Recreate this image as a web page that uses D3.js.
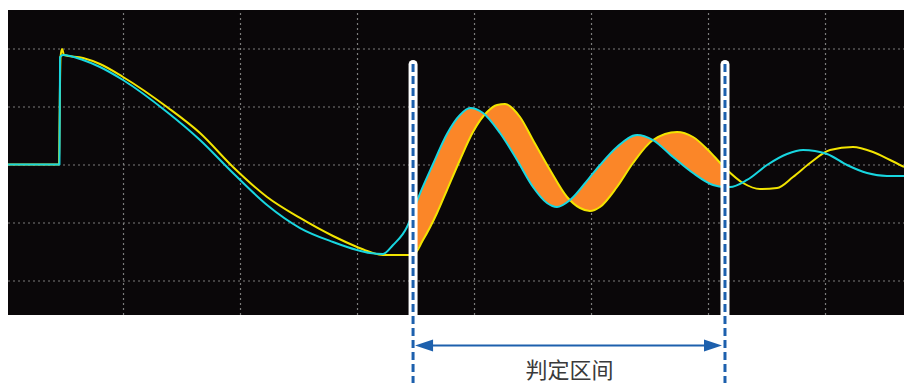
<!DOCTYPE html>
<html>
<head>
<meta charset="utf-8">
<script src="https://cdn.jsdelivr.net/npm/d3@7"></script>
<style>
  html, body { margin: 0; padding: 0; background: #ffffff; }
  svg { display: block; }
</style>
</head>
<body>
<svg id="chart" width="904" height="383"></svg>
<script>
// ---- Data (time in grid divisions, amplitude in grid divisions) ----
const cyanT = [0.017, 0.457, 0.462, 0.487, 0.658, 0.803, 1.000, 1.376, 1.658, 1.940, 2.231, 2.513, 2.795, 3.000, 3.111, 3.222, 3.308, 3.427, 3.479, 3.513, 3.650, 3.769, 3.880, 3.966, 4.077, 4.222, 4.368, 4.504, 4.624, 4.709, 4.821, 4.991, 5.077, 5.222, 5.393, 5.530, 5.701, 5.872, 6.043, 6.145, 6.188, 6.333, 6.504, 6.675, 6.812, 7.017, 7.188, 7.359, 7.530, 7.675];
const cyanV = [0, 0, 1.853, 1.888, 1.802, 1.681, 1.457, 0.905, 0.422, -0.147, -0.698, -1.095, -1.336, -1.474, -1.526, -1.543, -1.388, -1.078, -0.819, -0.629, 0.009, 0.526, 0.853, 0.974, 0.888, 0.543, 0.078, -0.388, -0.664, -0.733, -0.612, -0.216, -0.009, 0.302, 0.509, 0.422, 0.129, -0.147, -0.353, -0.388, -0.388, -0.267, -0.009, 0.181, 0.250, 0.181, -0.009, -0.147, -0.198, -0.198];

const yellowT = [0.017, 0.453, 0.457, 0.466, 0.479, 0.496, 0.658, 0.803, 1.000, 1.376, 1.658, 1.940, 2.231, 2.513, 2.795, 3.000, 3.111, 3.222, 3.479, 3.564, 3.684, 3.769, 3.880, 3.991, 4.111, 4.197, 4.265, 4.393, 4.504, 4.650, 4.795, 4.906, 4.991, 5.077, 5.222, 5.359, 5.530, 5.735, 5.872, 6.017, 6.145, 6.299, 6.444, 6.590, 6.726, 6.872, 7.043, 7.239, 7.410, 7.556, 7.675];
const yellowV = [0, 0, 0.629, 1.853, 1.991, 1.888, 1.836, 1.733, 1.509, 0.991, 0.543, -0.043, -0.560, -0.922, -1.233, -1.422, -1.509, -1.560, -1.560, -1.302, -0.836, -0.440, 0.078, 0.560, 0.905, 1.026, 1.043, 0.819, 0.422, -0.095, -0.560, -0.750, -0.802, -0.733, -0.388, 0.026, 0.422, 0.560, 0.474, 0.216, -0.060, -0.319, -0.422, -0.405, -0.216, 0.026, 0.250, 0.302, 0.216, 0.078, -0.043];

const gridX = [1, 2, 3, 4, 5, 6, 7];
const gridY = [-2, -1, 0, 1, 2];
const judgeStart = 3.479;
const judgeEnd = 6.145;
const judgeLabel = "判定区间";

// ---- Layout ----
const panel = { left: 8, right: 904, top: 10, bottom: 315 };
const svg = d3.select("#chart");

const x = d3.scaleLinear().domain([0.017, 7.675]).range([panel.left, panel.right]);
const y = d3.scaleLinear().domain([-2.595, 2.664]).range([panel.bottom, panel.top]);

const cyan = cyanT.map((t, i) => [t, cyanV[i]]);
const yellow = yellowT.map((t, i) => [t, yellowV[i]]);

svg.append("defs").append("clipPath").attr("id", "clip")
  .append("rect")
  .attr("x", panel.left).attr("y", panel.top)
  .attr("width", panel.right - panel.left).attr("height", panel.bottom - panel.top);

svg.append("rect")
  .attr("x", panel.left).attr("y", panel.top)
  .attr("width", panel.right - panel.left).attr("height", panel.bottom - panel.top)
  .attr("fill", "#0a0709");

// grid
const gx = svg.append("g")
  .attr("transform", `translate(0,${panel.bottom})`)
  .call(d3.axisBottom(x).tickValues(gridX).tickSize(-(panel.bottom - panel.top)).tickFormat(""));
const gy = svg.append("g")
  .attr("transform", `translate(${panel.left},0)`)
  .call(d3.axisLeft(y).tickValues(gridY).tickSize(-(panel.right - panel.left)).tickFormat(""));
[gx, gy].forEach(g => {
  g.select(".domain").remove();
  g.selectAll(".tick line")
    .attr("stroke", "#7c7c7c")
    .attr("stroke-width", 1.2)
    .attr("stroke-dasharray", "2,3");
});

const plot = svg.append("g").attr("clip-path", "url(#clip)");

const curve = d3.curveMonotoneX;
const line = d3.line().x(d => x(d[0])).y(d => y(d[1])).curve(curve);
const under = d3.area().x(d => x(d[0])).y0(panel.bottom + 5).y1(d => y(d[1])).curve(curve);

// orange difference fill inside the judgement interval (even-odd of the two under-areas)
const inWin = d => d[0] >= judgeStart - 1e-6 && d[0] <= judgeEnd + 1e-6;
const fillPath = under(cyan.filter(inWin)) + under(yellow.filter(inWin));
plot.append("path")
  .attr("d", fillPath)
  .attr("fill", "#fb8628")
  .attr("fill-rule", "evenodd")
  .attr("stroke", "none");

plot.append("path")
  .attr("d", line(yellow))
  .attr("fill", "none")
  .attr("stroke", "#f2e400")
  .attr("stroke-width", 2)
  .attr("stroke-linejoin", "round");

plot.append("path")
  .attr("d", line(cyan))
  .attr("fill", "none")
  .attr("stroke", "#18d6e0")
  .attr("stroke-width", 2)
  .attr("stroke-linejoin", "round");

// judgement markers
const markerTop = 64.5;
const blue = "#1d60ad";
[judgeStart, judgeEnd].forEach(t => {
  const mx = x(t);
  svg.append("line")
    .attr("x1", mx).attr("x2", mx)
    .attr("y1", markerTop).attr("y2", panel.bottom)
    .attr("stroke", "#ffffff")
    .attr("stroke-width", 9)
    .attr("stroke-linecap", "round");
  svg.append("line")
    .attr("x1", mx).attr("x2", mx)
    .attr("y1", 64).attr("y2", 383)
    .attr("stroke", blue)
    .attr("stroke-width", 3)
    .attr("stroke-dasharray", "8,4");
});

// double arrow
const ay = 345.5;
const x0 = x(judgeStart) + 2, x1 = x(judgeEnd) - 3;
svg.append("line")
  .attr("x1", x0 + 10).attr("x2", x1 - 10)
  .attr("y1", ay).attr("y2", ay)
  .attr("stroke", blue).attr("stroke-width", 2.2);
svg.append("path")
  .attr("d", `M${x0},${ay} L${x0 + 18},${ay - 6} L${x0 + 18},${ay + 6} Z`)
  .attr("fill", blue);
svg.append("path")
  .attr("d", `M${x1},${ay} L${x1 - 18},${ay - 6} L${x1 - 18},${ay + 6} Z`)
  .attr("fill", blue);

svg.append("text")
  .attr("x", (x(judgeStart) + x(judgeEnd)) / 2 + 0.5)
  .attr("y", 378)
  .attr("text-anchor", "middle")
  .attr("font-family", "'Noto Sans CJK SC', 'Noto Sans', sans-serif")
  .attr("font-size", 22)
  .attr("fill", "#3a3a3a")
  .text(judgeLabel);
</script>
</body>
</html>
